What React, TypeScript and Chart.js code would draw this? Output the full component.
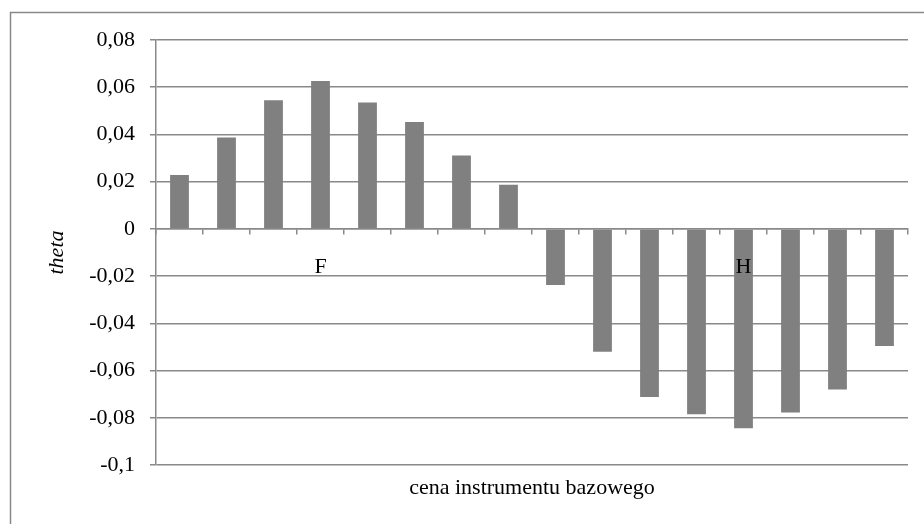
import React, { useEffect, useRef } from "react";
import { Chart, registerables } from "chart.js";

Chart.register(...registerables);

// Category labels along the zero line (only two are named)
const categories: string[] = ["", "", "", "F", "", "", "", "", "", "", "", "", "H", "", "", ""];

// Theta values for each underlying price level
const thetaValues: number[] = [
  0.0228, 0.0387, 0.0545, 0.0626, 0.0535, 0.0453, 0.0311, 0.0187,
  -0.0238, -0.052, -0.0712, -0.0785, -0.0844, -0.0778, -0.068, -0.0496,
];

const yMin = -0.1;
const yMax = 0.08;
const yStep = 0.02;

const xTitle = "cena instrumentu bazowego";
const yTitle = "theta";

const GRAY = "#898989";
const BAR = "#808080";
const FONT = "'Liberation Serif', 'Times New Roman', serif";

const fmt = (v: number) => {
  const r = Math.round(v * 100) / 100;
  return String(r === 0 ? 0 : r).replace(".", ",");
};

// Frame around the whole chart (top and left edges visible)
const framePlugin = {
  id: "frame",
  beforeDraw(chart: any) {
    const ctx = chart.ctx;
    ctx.save();
    ctx.strokeStyle = GRAY;
    ctx.lineWidth = 1.5;
    ctx.beginPath();
    ctx.moveTo(10.5, chart.height);
    ctx.lineTo(10.5, 12.5);
    ctx.lineTo(chart.width, 12.5);
    ctx.stroke();
    ctx.restore();
  },
};

export default function App() {
  const ref = useRef<HTMLCanvasElement | null>(null);

  useEffect(() => {
    if (!ref.current) return;
    const chart = new Chart(ref.current, {
      type: "bar",
      data: {
        labels: categories,
        datasets: [
          {
            data: thetaValues,
            backgroundColor: BAR,
            borderWidth: 0,
            categoryPercentage: 1,
            barPercentage: 0.4,
          },
        ],
      },
      options: {
        animation: false,
        responsive: false,
        maintainAspectRatio: false,
        layout: { padding: { top: 40, right: 16, left: 0, bottom: 0 } },
        plugins: {
          legend: { display: false },
          tooltip: { enabled: false },
        },
        scales: {
          x: {
            type: "category",
            position: { y: 0 } as any,
            offset: true,
            grid: {
              display: true,
              drawOnChartArea: false,
              drawTicks: true,
              tickLength: 5,
              offset: true,
              color: GRAY,
              lineWidth: 1.5,
              z: 1,
            },
            border: { display: true, color: GRAY, width: 1.5, z: 1 },
            ticks: {
              autoSkip: false,
              maxRotation: 0,
              padding: 20,
              color: "#000",
              font: { family: FONT, size: 22 },
              z: 1,
            },
          },
          x2: {
            type: "category",
            position: "bottom",
            offset: true,
            grid: { display: false },
            border: { display: false },
            ticks: { display: false },
            title: {
              display: true,
              text: xTitle,
              color: "#000",
              font: { family: FONT, size: 22 },
              padding: { top: 0, bottom: 23 },
            },
            afterFit: (s: any) => {
              s.height = 59;
            },
          },
          y: {
            min: yMin,
            max: yMax,
            grid: {
              color: GRAY,
              lineWidth: 1.5,
              tickLength: 6,
              drawTicks: true,
            },
            border: { display: true, color: GRAY, width: 1.5 },
            ticks: {
              stepSize: yStep,
              padding: 15,
              color: "#000",
              font: { family: FONT, size: 22 },
              callback: (v: any) => fmt(Number(v)),
            },
            title: {
              display: true,
              text: yTitle,
              color: "#000",
              font: { family: FONT, size: 22, style: "italic" },
              padding: { top: 44, bottom: 0 },
            },
            afterFit: (s: any) => {
              s.width = 156;
            },
          },
        },
      },
      plugins: [framePlugin],
    });
    return () => chart.destroy();
  }, []);

  return (
    <div style={{ position: "absolute", left: 0, top: 0, width: 924, height: 524, background: "#fff" }}>
      <canvas ref={ref} width={924} height={524} style={{ width: 924, height: 524 }} />
    </div>
  );
}
